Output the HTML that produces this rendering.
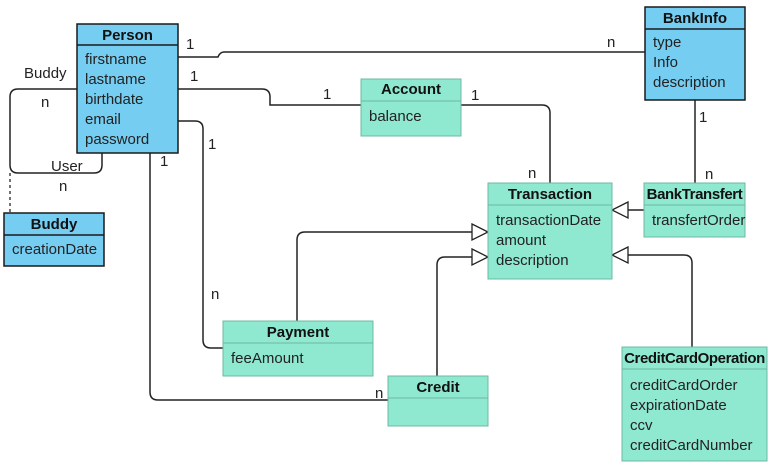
<!DOCTYPE html>
<html><head><meta charset="utf-8"><style>
html,body{margin:0;padding:0;background:#fff;}
svg{display:block;font-family:"Liberation Sans",Arial,sans-serif;font-size:15px;}
.b{fill:#76cdf2;stroke:#1a1a1a;stroke-width:1.5;}
.g{fill:#8fe8d0;stroke:#6fb8a2;stroke-width:1;}
.l{fill:none;stroke:#222;stroke-width:1.5;}
.t{fill:#222;}
.h{font-weight:bold;fill:#111;}
</style></head><body>
<svg width="774" height="467" viewBox="0 0 774 467">
<path class="l" d="M178,57 H218 Q220,52 224,52 H645"/>
<path class="l" d="M178,89 H262 Q270,89 270,97 V105 H361"/>
<path class="l" d="M461,105 H542 Q550,105 550,113 V183"/>
<path class="l" d="M695,100 V183"/>
<path class="l" d="M644,210 H628"/>
<path fill="#fff" stroke="#222" stroke-width="1.3" d="M628,202 L612,210 L628,218 Z"/>
<path class="l" d="M178,121 H195 Q203,121 203,129 V340 Q203,348 211,348 H223"/>
<path class="l" d="M150,153 V392 Q150,400 158,400 H388"/>
<path class="l" d="M77,89 H18 Q10,89 10,97 V165 Q10,173 18,173 H94 Q102,173 102,165 V153"/>
<path fill="none" stroke="#444" stroke-width="1.5" stroke-dasharray="3,3" d="M10,173 V213"/>
<path class="l" d="M297,321 V240 Q297,232 305,232 H472"/>
<path fill="#fff" stroke="#222" stroke-width="1.3" d="M472,224 L488,232 L472,240 Z"/>
<path class="l" d="M437,376 V265 Q437,257 445,257 H472"/>
<path fill="#fff" stroke="#222" stroke-width="1.3" d="M472,249 L488,257 L472,265 Z"/>
<path class="l" d="M692,347 V263 Q692,255 684,255 H628"/>
<path fill="#fff" stroke="#222" stroke-width="1.3" d="M628,247 L612,255 L628,263 Z"/>
<g class="t">
<text x="186" y="49">1</text><text x="607" y="47">n</text>
<text x="190" y="81">1</text><text x="323" y="99">1</text>
<text x="471" y="100">1</text><text x="528" y="178">n</text>
<text x="699" y="122">1</text><text x="705" y="179">n</text>
<text x="208" y="149">1</text><text x="211" y="299">n</text>
<text x="160" y="166">1</text><text x="375" y="398">n</text>
<text x="24" y="78">Buddy</text><text x="41" y="107">n</text>
<text x="51" y="171">User</text><text x="59" y="191">n</text>
</g>
<rect class="b" x="77" y="24" width="101" height="129"/><line x1="77" y1="45" x2="178" y2="45" stroke="#1a1a1a" stroke-width="1.5"/>
<text class="h" x="127.5" y="40" text-anchor="middle">Person</text>
<g class="t"><text x="85" y="64">firstname</text><text x="85" y="84">lastname</text><text x="85" y="104">birthdate</text><text x="85" y="124">email</text><text x="85" y="144">password</text></g>
<rect class="b" x="645" y="7" width="100" height="93"/><line x1="645" y1="29" x2="745" y2="29" stroke="#1a1a1a" stroke-width="1.5"/>
<text class="h" x="695" y="23" text-anchor="middle">BankInfo</text>
<g class="t"><text x="653" y="47">type</text><text x="653" y="67">Info</text><text x="653" y="87">description</text></g>
<rect class="b" x="4" y="213" width="100" height="53"/><line x1="4" y1="235" x2="104" y2="235" stroke="#1a1a1a" stroke-width="1.5"/>
<text class="h" x="54" y="229" text-anchor="middle">Buddy</text>
<text class="t" x="12" y="254">creationDate</text>
<rect class="g" x="361" y="79" width="100" height="57"/><line x1="361" y1="101" x2="461" y2="101" stroke="#6fb8a2"/>
<text class="h" x="411" y="94" text-anchor="middle">Account</text>
<text class="t" x="369" y="121">balance</text>
<rect class="g" x="488" y="183" width="124" height="96"/><line x1="488" y1="205" x2="612" y2="205" stroke="#6fb8a2"/>
<text class="h" x="550" y="199" text-anchor="middle">Transaction</text>
<g class="t"><text x="496" y="225">transactionDate</text><text x="496" y="245">amount</text><text x="496" y="265">description</text></g>
<rect class="g" x="644" y="183" width="101" height="54"/><line x1="644" y1="205" x2="745" y2="205" stroke="#6fb8a2"/>
<text class="h" x="694.5" y="199" text-anchor="middle" letter-spacing="-0.4">BankTransfert</text>
<text class="t" x="652" y="225">transfertOrder</text>
<rect class="g" x="223" y="321" width="150" height="55"/><line x1="223" y1="343" x2="373" y2="343" stroke="#6fb8a2"/>
<text class="h" x="298" y="337" text-anchor="middle">Payment</text>
<text class="t" x="231" y="363">feeAmount</text>
<rect class="g" x="388" y="376" width="100" height="50"/><line x1="388" y1="398" x2="488" y2="398" stroke="#6fb8a2"/>
<text class="h" x="438" y="392" text-anchor="middle">Credit</text>
<rect class="g" x="622" y="347" width="145" height="114"/><line x1="622" y1="369" x2="767" y2="369" stroke="#6fb8a2"/>
<text class="h" x="694.5" y="363" text-anchor="middle" letter-spacing="-0.4">CreditCardOperation</text>
<g class="t"><text x="630" y="390">creditCardOrder</text><text x="630" y="410">expirationDate</text><text x="630" y="430">ccv</text><text x="630" y="450">creditCardNumber</text></g>
</svg>
</body></html>
